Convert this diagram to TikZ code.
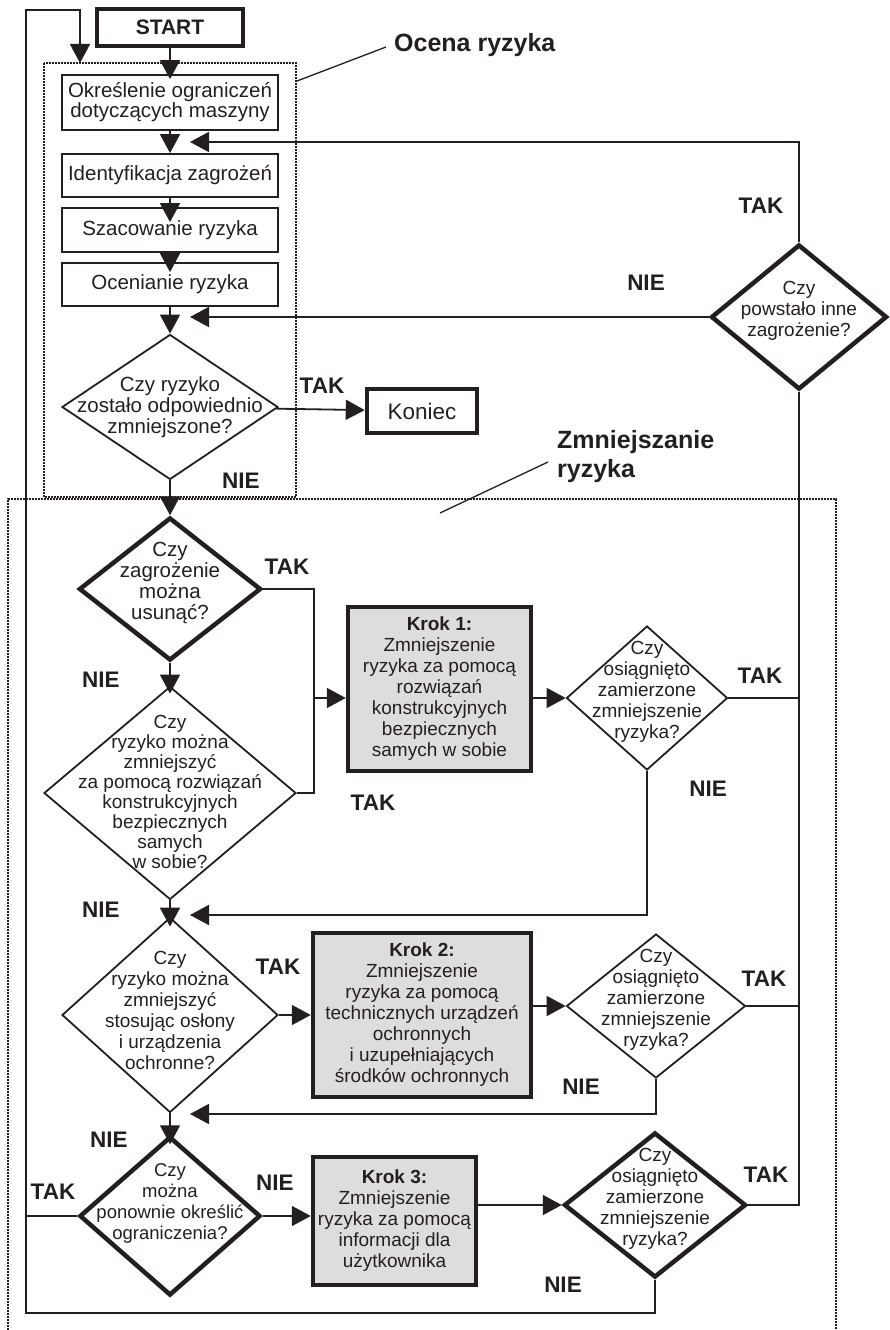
\documentclass[tikz,border=0pt]{standalone}
\usepackage{fontspec}
\setmainfont{Liberation Sans}
\usetikzlibrary{arrows.meta,shapes.geometric}
\definecolor{ink}{HTML}{231F20}
\definecolor{kfill}{HTML}{DDDDDD}
\begin{document}
\begin{tikzpicture}[x=1pt,y=-1pt,
  ln/.style={draw=ink, line width=1.8pt},
  arr/.style={ln, -{Triangle[length=19pt,width=20pt]}},
  thinln/.style={draw=ink, line width=1.3pt},
  boxthin/.style={draw=ink, line width=1.8pt, rectangle, inner sep=0pt, text=ink, align=center},
  boxthick/.style={draw=ink, line width=4.5pt, rectangle, inner sep=0pt, text=ink, align=center},
  krok/.style={boxthick, fill=kfill, font=\fontsize{19}{21}\selectfont},
  dthin/.style={draw=ink, line width=1.8pt, diamond, inner sep=0pt},
  dthick/.style={draw=ink, line width=4.5pt, diamond, inner sep=0pt},
  txtA/.style={text=ink, font=\fontsize{20.5}{20.5}\selectfont, align=center, inner sep=0pt},
  txtD/.style={text=ink, font=\fontsize{20.5}{21}\selectfont, align=center, inner sep=0pt},
  txt/.style={text=ink, font=\fontsize{19}{21}\selectfont, align=center, inner sep=0pt},
  lbl/.style={text=ink, font=\fontsize{22.5}{24}\selectfont\bfseries, inner sep=0pt},
  ttl/.style={text=ink, font=\fontsize{25}{29}\selectfont\bfseries, inner sep=0pt, align=left},
  dotbox/.style={draw=ink, line width=1.3pt, dash pattern=on 1.6pt off 1.4pt}
]
\useasboundingbox (0,0) rectangle (889,1330);

% region frames
\draw[dotbox] (44,63) rectangle (296,497);
\draw[dotbox] (8,1330) -- (8,499) -- (836,499) -- (836,1330);

% titles
\node[ttl, anchor=west] (lo) at (394,45) {Ocena ryzyka};
\node[ttl, anchor=west] (lz) at (557,457) {Zmniejszanie\\ryzyka};
\coordinate (co) at (297,81);
\coordinate (cz) at (440,513);
\draw[thinln] (co) -- ([xshift=-8pt,yshift=-2pt]lo.west);
\draw[thinln] (cz) -- ([xshift=-9pt,yshift=-5pt]lz.west);

% boxes
\node[boxthick, minimum width=146pt, minimum height=37pt, font=\fontsize{21}{21}\selectfont\bfseries] (start) at (170,27.5) {START};
\node[boxthin, minimum width=216pt, minimum height=55pt, font=\fontsize{20.5}{20}\selectfont] (b1) at (170,102.5) {Określenie ograniczeń\\dotyczących maszyny};
\node[boxthin, minimum width=216pt, minimum height=43pt, font=\fontsize{20.5}{20}\selectfont] (b2) at (170,175.5) {Identyfikacja zagrożeń};
\node[boxthin, minimum width=216pt, minimum height=44pt, font=\fontsize{20.5}{20}\selectfont] (b3) at (170,230) {Szacowanie ryzyka};
\node[boxthin, minimum width=216pt, minimum height=43pt, font=\fontsize{20.5}{20}\selectfont] (b4) at (170,284.5) {Ocenianie ryzyka};
\node[boxthick, minimum width=110pt, minimum height=44pt, font=\fontsize{22.5}{22}\selectfont] (kon) at (422,411) {Koniec};

% diamonds
\node[dthin, minimum width=216pt, minimum height=145pt] (d1) at (170,407) {};
\node[txtD] (t1) at (170,407) {Czy ryzyko\\zostało odpowiednio\\zmniejszone?};
\node[dthick, minimum width=176pt, minimum height=145pt] (dr) at (799,317) {};
\node[txt] (tr) at (799,311) {Czy\\powstało inne\\zagrożenie?};
\node[dthick, minimum width=182pt, minimum height=143pt] (d2) at (170,589) {};
\node[txtD] (t2) at (170,583) {Czy\\zagrożenie\\można\\usunąć?};
\node[dthin, minimum width=252pt, minimum height=213pt] (d3) at (170,793) {};
\node[txt, font=\fontsize{19}{20}\selectfont] (t3) at (170,792) {Czy\\ryzyko można\\zmniejszyć\\za pomocą rozwiązań\\konstrukcyjnych\\bezpiecznych\\samych\\w sobie?};
\node[krok, minimum width=183pt, minimum height=164pt] (k1) at (439.5,689) {\textbf{Krok 1:}\\Zmniejszenie\\ryzyka za pomocą\\rozwiązań\\konstrukcyjnych\\bezpiecznych\\samych w sobie};
\node[dthin, minimum width=161pt, minimum height=144pt] (d5) at (647,698) {};
\node[txt] (t5) at (647,692) {Czy\\osiągnięto\\zamierzone\\zmniejszenie\\ryzyka?};
\node[dthin, minimum width=216pt, minimum height=195pt] (d4) at (170,1015) {};
\node[txt] (t4) at (170,1010) {Czy\\ryzyko można\\zmniejszyć\\stosując osłony\\i urządzenia\\ochronne?};
\node[krok, minimum width=218pt, minimum height=164pt] (k2) at (422,1015) {\textbf{Krok 2:}\\Zmniejszenie\\ryzyka za pomocą\\technicznych urządzeń\\ochronnych\\i uzupełniających\\środków ochronnych};
\node[dthin, minimum width=179pt, minimum height=144pt] (d6) at (656,1006) {};
\node[txt] (t6) at (656,1000) {Czy\\osiągnięto\\zamierzone\\zmniejszenie\\ryzyka?};
\node[dthick, minimum width=181pt, minimum height=159pt] (d7) at (170,1216) {};
\node[txt, font=\fontsize{18.5}{21}\selectfont] (t7) at (170,1203) {Czy\\można\\ponownie określić\\ograniczenia?};
\node[krok, minimum width=163pt, minimum height=128pt] (k3) at (394.5,1221) {\textbf{Krok 3:}\\Zmniejszenie\\ryzyka za pomocą\\informacji dla\\użytkownika};
\node[dthick, minimum width=182pt, minimum height=145pt] (d8) at (655,1205) {};
\node[txt] (t8) at (655,1199) {Czy\\osiągnięto\\zamierzone\\zmniejszenie\\ryzyka?};

% labels
\node[lbl] (l1) at (322,386) {TAK};
\node[lbl] (l2) at (241,481) {NIE};
\node[lbl] (l3) at (761,206) {TAK};
\node[lbl] (l4) at (646,283) {NIE};
\node[lbl] (l5) at (287,567) {TAK};
\node[lbl] (l6) at (101,680) {NIE};
\node[lbl] (l7) at (373,803) {TAK};
\node[lbl] (l8) at (101,910) {NIE};
\node[lbl] (l9) at (760,676) {TAK};
\node[lbl] (l10) at (708,789) {NIE};
\node[lbl] (l11) at (278,967) {TAK};
\node[lbl] (l12) at (764,979) {TAK};
\node[lbl] (l13) at (581,1087) {NIE};
\node[lbl] (l14) at (109,1140) {NIE};
\node[lbl] (l15) at (53,1192) {TAK};
\node[lbl] (l16) at (275,1183) {NIE};
\node[lbl] (l17) at (766,1175) {TAK};
\node[lbl] (l18) at (563,1285) {NIE};

% helper coordinates
\coordinate (fb1) at (190,142);
\coordinate (fb2) at (190,317);
\coordinate (fb3) at (190,915);
\coordinate (fb4) at (190,1114);
\coordinate (j1top) at (314,589);
\coordinate (j1) at (314,698);
\coordinate (j1bot) at (314,793);
\coordinate (cbl) at (26,1313);
\coordinate (ctl) at (26,10);
\coordinate (ctr) at (80,10);
\coordinate (cin) at (80,63);

% main chain
\draw[arr] (start) -- ([yshift=-5pt]b1.north);
\draw[arr] (b1) -- (b2);
\draw[arr] (b2) -- ([yshift=-15pt]b3.north);
\draw[arr] (b3) -- ([yshift=-10pt]b4.north);
\draw[arr] (b4) -- (d1);
\draw[arr] (d1) -- (kon);
\draw[arr] (d1) -- (d2);
\draw[arr] (d2) -- ([yshift=-8pt]d3.north);
\draw[arr] (d3) -- ([yshift=-10pt]d4.north);
\draw[arr] (d4) -- ([yshift=-10pt]d7.north);

% step 1
\draw[ln] (d2.east) -- (j1top) -- (j1bot) -- (d3.east);
\draw[arr] (j1) -- (k1.west |- j1);
\draw[arr] (k1.east |- d5) -- (d5.west);
\draw[ln] (d5.east) -- (d5.east -| dr.south);
\draw[arr] (d5.south) |- (fb3);

% step 2
\draw[arr] (d4.east) -- (k2.west |- d4.east);
\draw[arr] (k2.east |- d6) -- (d6.west);
\draw[ln] (d6.east) -- (d6.east -| dr.south);
\draw[arr] (d6.south) |- (fb4);

% step 3
\draw[arr] (d7.east) -- (k3.west |- d7.east);
\draw[arr] (k3.east |- d8) -- (d8.west);
\draw[ln] (dr.south) |- (d8.east);
\draw[arr] (d8.south) |- (cbl) -- (ctl) -- (ctr) -- (cin);
\draw[ln] (d7.west) -- (d7.west -| cbl);

% other hazard
\draw[arr] (dr.north) |- (fb1);
\draw[arr] (dr.west) -- (fb2);
\end{tikzpicture}
\end{document}
